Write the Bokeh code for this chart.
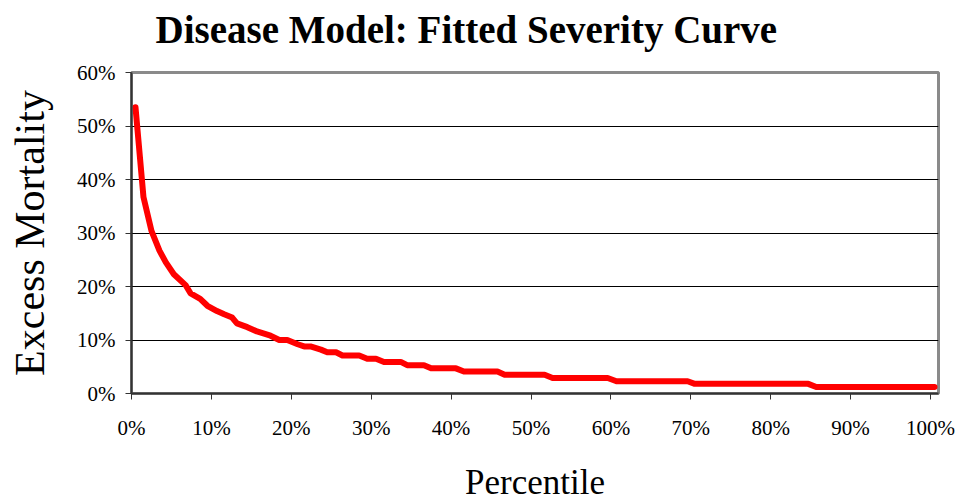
from bokeh.plotting import figure
from bokeh.models import Range1d, NumeralTickFormatter, FixedTicker, Title
from bokeh.embed import file_html
from bokeh.resources import INLINE

# Data (fractions)
percentile = [0.005, 0.015, 0.025, 0.035, 0.043, 0.053, 0.068, 0.074, 0.086, 0.095,
              0.107, 0.116, 0.126, 0.132, 0.145, 0.157, 0.174, 0.185, 0.195, 0.208,
              0.216, 0.224, 0.237, 0.245, 0.256, 0.264, 0.285, 0.295, 0.306, 0.316,
              0.337, 0.345, 0.366, 0.375, 0.406, 0.416, 0.458, 0.467, 0.517, 0.527,
              0.596, 0.607, 0.696, 0.705, 0.847, 0.857, 1.005]
mortality = [0.535, 0.367, 0.304, 0.267, 0.245, 0.223, 0.202, 0.187, 0.177, 0.164,
             0.154, 0.148, 0.142, 0.131, 0.124, 0.116, 0.108, 0.100, 0.100, 0.092,
             0.088, 0.088, 0.082, 0.077, 0.077, 0.071, 0.071, 0.065, 0.065, 0.059,
             0.059, 0.053, 0.053, 0.047, 0.047, 0.041, 0.041, 0.035, 0.035, 0.029,
             0.029, 0.023, 0.023, 0.018, 0.018, 0.012, 0.012]
x_ticks = [0.0, 0.1, 0.2, 0.3, 0.4, 0.5, 0.6, 0.7, 0.8, 0.9, 1.0]
y_ticks = [0.0, 0.1, 0.2, 0.3, 0.4, 0.5, 0.6]

title_text = "Disease Model: Fitted Severity Curve"
x_label = "Percentile"
y_label = "Excess Mortality"

SERIF = "Liberation Serif"

p = figure(width=965, height=504, output_backend="svg", toolbar_location=None,
           x_range=Range1d(0, 1.01), y_range=Range1d(0, 0.6),
           min_border_left=131, min_border_right=27,
           min_border_top=72, min_border_bottom=111,
           background_fill_color="white", border_fill_color="white")

# spacer between frame and title, then the title itself (further out)
p.add_layout(Title(text=" ", text_font_size="10px", standoff=9), "above")
p.add_layout(Title(text=title_text, text_font=SERIF, text_font_style="bold",
                   text_font_size="39px", text_color="black",
                   align="left", offset=24, standoff=0), "above")

p.outline_line_color = "#8a8a8a"
p.outline_line_width = 3

p.xgrid.grid_line_color = None
p.ygrid.grid_line_color = "black"
p.ygrid.grid_line_width = 1
p.ygrid.ticker = FixedTicker(ticks=y_ticks)

for ax in (p.xaxis[0], p.yaxis[0]):
    ax.axis_line_color = "#333333"
    ax.axis_line_width = 2
    ax.major_tick_line_color = "#333333"
    ax.major_tick_line_width = 1
    ax.major_tick_out = 6
    ax.major_tick_in = 0
    ax.minor_tick_line_color = None
    ax.major_label_text_font = SERIF
    ax.major_label_text_font_size = "21px"
    ax.major_label_text_color = "black"
    ax.axis_label_text_font = SERIF
    ax.axis_label_text_font_style = "normal"
    ax.axis_label_text_color = "black"
    ax.formatter = NumeralTickFormatter(format="0%")

p.xaxis.ticker = FixedTicker(ticks=x_ticks)
p.yaxis.ticker = FixedTicker(ticks=y_ticks)

p.xaxis.axis_label = x_label
p.xaxis.axis_label_text_font_size = "35px"
p.xaxis.major_label_standoff = 16
p.xaxis.axis_label_standoff = 20

p.yaxis.axis_label = y_label
p.yaxis.axis_label_text_font_size = "42px"
p.yaxis.major_label_standoff = 10
p.yaxis.axis_label_standoff = 21

p.line(percentile, mortality, line_color="#ff0000", line_width=6,
       line_cap="round", line_join="round")

open("out.html", "w").write(file_html(p, INLINE))
